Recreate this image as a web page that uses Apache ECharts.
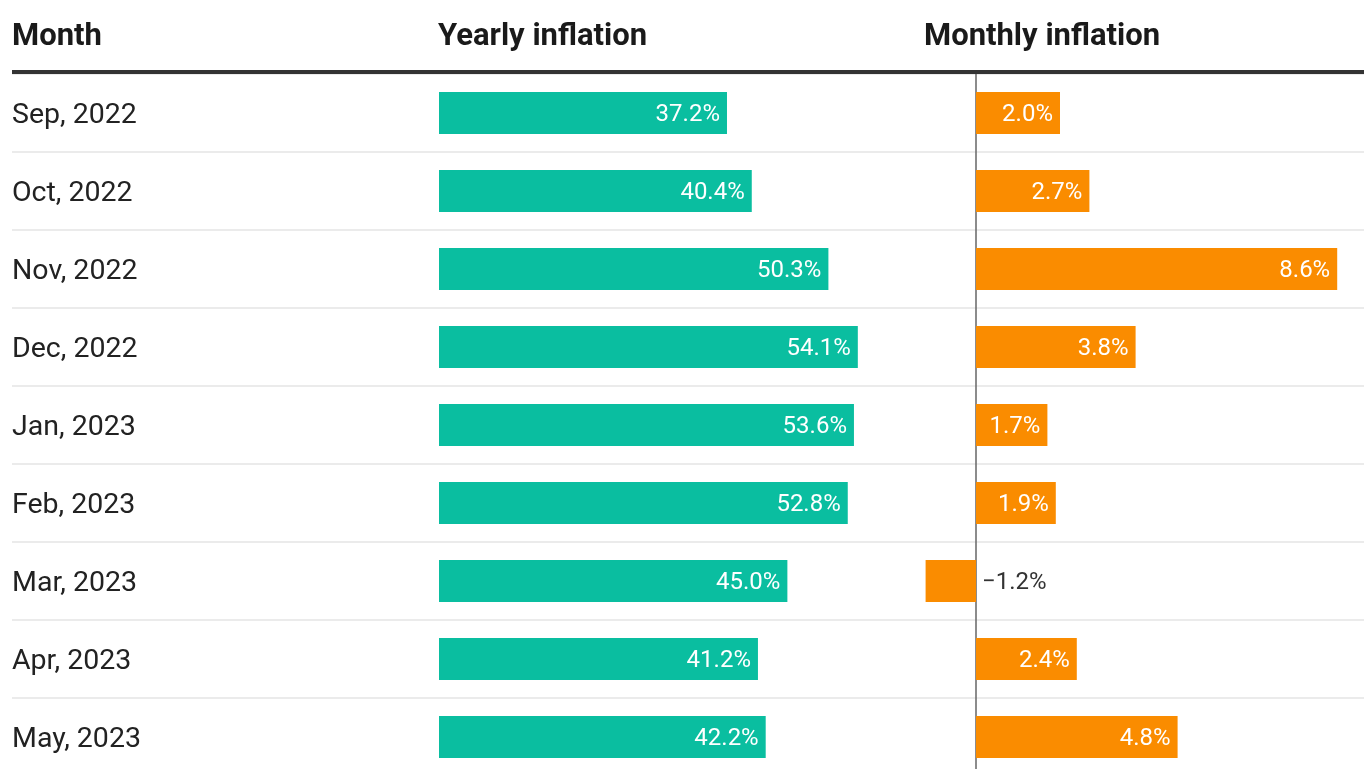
<!DOCTYPE html>
<html>
<head>
<meta charset="utf-8">
<script src="https://cdn.jsdelivr.net/npm/echarts@6/dist/echarts.min.js"></script>
<style>
  html, body { margin: 0; padding: 0; background: #fff; }
  #main { width: 1364px; height: 769px; }
</style>
</head>
<body>
<div id="main"></div>
<script>
// 数据
var months = ['Sep, 2022', 'Oct, 2022', 'Nov, 2022', 'Dec, 2022', 'Jan, 2023', 'Feb, 2023', 'Mar, 2023', 'Apr, 2023', 'May, 2023'];
var yearly = [37.2, 40.4, 50.3, 54.1, 53.6, 52.8, 45.0, 41.2, 42.2];
var monthly = [2.0, 2.7, 8.6, 3.8, 1.7, 1.9, -1.2, 2.4, 4.8];
var headers = ['Month', 'Yearly inflation', 'Monthly inflation'];

var font = 'Roboto';

function pct(v) {
    var s = Math.abs(v).toFixed(1) + '%';
    return v < 0 ? '\u2212' + s : s;
}

// 负值的标签放在零线右边
var monthlyData = monthly.map(function (v) {
    if (v < 0) {
        return { value: v, label: { position: 'right', distance: 6, color: '#333' } };
    }
    return v;
});

// 每行78px，共9行（最后一行超出画布一点）
var rowTop = 74;
var rowsHeight = 702;

var option = {
    animation: false,
    backgroundColor: '#fff',
    graphic: [
        { type: 'text', left: 12, top: 22, style: { text: headers[0], font: 'bold 31px ' + font, fill: '#1a1a1a' } },
        { type: 'text', left: 438, top: 22, style: { text: headers[1], font: 'bold 31px ' + font, fill: '#1a1a1a' } },
        { type: 'text', left: 924, top: 22, style: { text: headers[2], font: 'bold 31px ' + font, fill: '#1a1a1a' } }
    ],
    grid: [
        { left: 12, right: 0, top: rowTop, height: rowsHeight, outerBoundsMode: 'none' },
        { left: 439, width: 464.5, top: rowTop, height: rowsHeight, outerBoundsMode: 'none' },
        { left: 892, width: 462, top: rowTop, height: rowsHeight, outerBoundsMode: 'none' }
    ],
    xAxis: [
        {
            gridIndex: 0, type: 'value', min: 0, max: 1, position: 'top', offset: 2,
            axisLine: { show: true, lineStyle: { color: '#333', width: 4, cap: 'butt' } },
            axisTick: { show: false }, axisLabel: { show: false }, splitLine: { show: false }
        },
        {
            gridIndex: 1, type: 'value', min: 0, max: 60,
            axisLine: { show: false }, axisTick: { show: false }, axisLabel: { show: false }, splitLine: { show: false }
        },
        {
            gridIndex: 2, type: 'value', min: -2, max: 9,
            axisLine: { show: false }, axisTick: { show: false }, axisLabel: { show: false }, splitLine: { show: false }
        }
    ],
    yAxis: [
        {
            gridIndex: 0, type: 'category', data: months, inverse: true,
            axisLine: { show: false }, axisTick: { show: false },
            axisLabel: {
                inside: true, margin: 0,
                formatter: function (v) { return '{t|' + v + '}'; },
                rich: { t: { color: '#222', fontFamily: font, fontSize: 28.5, padding: [6, 0, 0, 0] } }
            },
            splitLine: { show: true, lineStyle: { color: '#ebebeb', width: 2 } }
        },
        {
            gridIndex: 1, type: 'category', data: months, inverse: true,
            axisLine: { show: false }, axisTick: { show: false }, axisLabel: { show: false }
        },
        {
            gridIndex: 2, type: 'category', data: months, inverse: true,
            axisLine: { show: true, onZero: true, lineStyle: { color: '#666', width: 1.5 } },
            axisTick: { show: false }, axisLabel: { show: false }
        }
    ],
    series: [
        {
            type: 'bar', xAxisIndex: 1, yAxisIndex: 1, data: yearly, barWidth: 42,
            itemStyle: { color: '#0abea0' },
            label: {
                show: true, position: 'insideRight', distance: 7, offset: [0, 1.5], color: '#fff',
                fontFamily: font, fontSize: 24,
                formatter: function (p) { return pct(p.value); }
            }
        },
        {
            type: 'bar', xAxisIndex: 2, yAxisIndex: 2, data: monthlyData, barWidth: 42,
            itemStyle: { color: '#fa8c00' },
            label: {
                show: true, position: 'insideRight', distance: 7, offset: [0, 1.5], color: '#fff',
                fontFamily: font, fontSize: 24,
                formatter: function (p) { return pct(p.value); }
            }
        }
    ]
};

var myChart = echarts.init(document.getElementById('main'));
myChart.setOption(option);
</script>
</body>
</html>
